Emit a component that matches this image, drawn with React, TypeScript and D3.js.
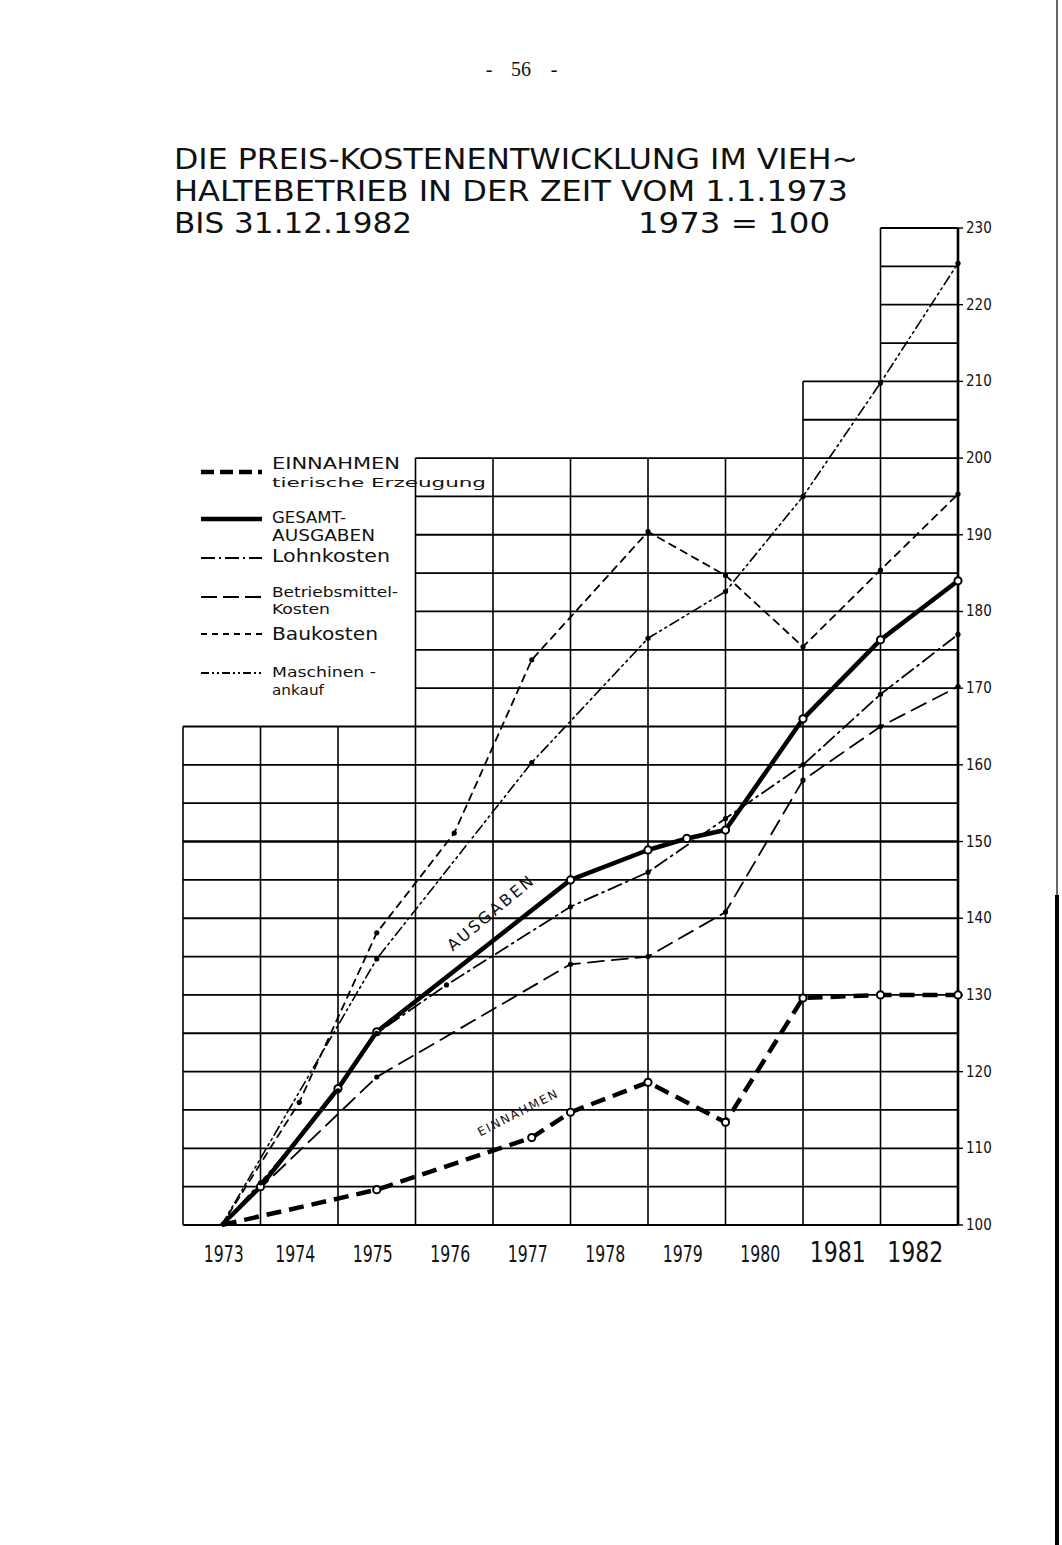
import React from 'react';
import * as d3 from 'd3';

// ---------- data ----------
const yearLabels = ['1973', '1974', '1975', '1976', '1977', '1978', '1979', '1980', '1981', '1982'];
const yTickValues = [100, 110, 120, 130, 140, 150, 160, 170, 180, 190, 200, 210, 220, 230];
// top value of the drawn grid for each year column
const columnTops = [165, 165, 165, 200, 200, 200, 200, 200, 210, 230];

const einnahmen: [number, number][] = [
  [1973, 100], [1975, 104.6], [1977, 111.4], [1977.5, 114.7], [1978.5, 118.6],
  [1979.5, 113.4], [1980.5, 129.6], [1981.5, 130], [1982.5, 130],
];
const ausgaben: [number, number][] = [
  [1973, 100], [1973.5, 105], [1974.5, 117.8], [1975, 125.2], [1977.5, 145],
  [1978.5, 148.9], [1979, 150.4], [1979.5, 151.5], [1980.5, 166], [1981.5, 176.3], [1982.5, 184],
];
const lohnkosten: [number, number][] = [
  [1973, 100], [1973.5, 105.5], [1974.5, 117.5], [1975, 125], [1975.9, 131.3], [1977.5, 141.5],
  [1978.5, 146], [1979.5, 153], [1980.5, 160], [1981.5, 169.2], [1982.5, 177],
];
const betriebsmittel: [number, number][] = [
  [1973, 100], [1975, 119.3], [1977.5, 134], [1978.5, 135], [1979.5, 140.8],
  [1980.5, 158], [1981.5, 165], [1982.5, 170.2],
];
const baukosten: [number, number][] = [
  [1973, 100], [1974, 116], [1975, 138.1], [1976, 151.1], [1977, 173.7], [1978.5, 190.4],
  [1979.5, 184.7], [1980.5, 175.4], [1981.5, 185.4], [1982.5, 195.3],
];
const maschinen: [number, number][] = [
  [1973, 100], [1975, 134.7], [1977, 160.3], [1978.5, 176.5], [1979.5, 182.6],
  [1980.5, 195], [1981.5, 209.8], [1982.5, 225.4],
];

const titleLines = [
  'DIE PREIS-KOSTENENTWICKLUNG IM VIEH~',
  'HALTEBETRIEB IN DER ZEIT VOM 1.1.1973',
  'BIS 31.12.1982',
];

// ---------- styles ----------
const series = [
  { name: 'einnahmen', data: einnahmen, width: 4.5, dash: '15 8' },
  { name: 'ausgaben', data: ausgaben, width: 4.5, dash: '' },
  { name: 'lohn', data: lohnkosten, width: 1.8, dash: '14 5 2 5' },
  { name: 'betrieb', data: betriebsmittel, width: 1.8, dash: '16 8' },
  { name: 'bau', data: baukosten, width: 1.8, dash: '7 6' },
  { name: 'maschinen', data: maschinen, width: 1.6, dash: '10 4 2 4 2 4' },
];

const legendItems = [
  { lines: ['EINNAHMEN', 'tierische Erzeugung'], lens: [128, 214], sizes: [15, 13], width: 4.5, dash: '13 6' },
  { lines: ['GESAMT-', 'AUSGABEN'], lens: [74, 103], sizes: [15, 15], width: 4.5, dash: '' },
  { lines: ['Lohnkosten'], lens: [118], sizes: [17], width: 2.2, dash: '14 4 2 4' },
  { lines: ['Betriebsmittel-', 'Kosten'], lens: [126, 58], sizes: [13.5, 13.5], width: 2.2, dash: '16 6' },
  { lines: ['Baukosten'], lens: [106], sizes: [17], width: 1.8, dash: '6 5' },
  { lines: ['Maschinen -', 'ankauf'], lens: [104, 52], sizes: [14, 14], width: 1.8, dash: '8 3 2 3 2 3' },
];
const legendY = [472, 519, 558, 597, 634, 673];
const legendTextY = [[469, 487], [523, 541], [562], [597, 614], [640], [677, 695]];

const hand = "'Liberation Sans Narrow', 'DejaVu Sans Condensed', sans-serif";

export default function App() {
  const W = 1062;
  const H = 1545;
  const x = d3.scaleLinear().domain([1972.5, 1982.5]).range([183, 958]);
  const y = d3.scaleLinear().domain([100, 230]).range([1225, 228]);
  const line = d3.line<[number, number]>().x(d => x(d[0])).y(d => y(d[1]));

  // grid lines
  const hLines: { v: number; x1: number }[] = [];
  for (let v = 100; v <= 230; v += 5) {
    const c = columnTops.findIndex(t => t >= v);
    hLines.push({ v, x1: x(1972.5 + c) });
  }
  const vLines: { i: number; top: number }[] = [];
  for (let i = 0; i <= columnTops.length; i++) {
    const a = i > 0 ? columnTops[i - 1] : 0;
    const b = i < columnTops.length ? columnTops[i] : 0;
    vLines.push({ i, top: Math.max(a, b) });
  }

  return (
    <svg width={W} height={H} style={{ position: 'absolute', left: 0, top: 0, background: '#fff' }}>
      <rect x={0} y={0} width={W} height={H} fill="#fff" />
      {/* page edge */}
      <line x1={1057} y1={0} x2={1057} y2={900} stroke="#000" strokeWidth={1.2} />
      <line x1={1057} y1={895} x2={1057} y2={H} stroke="#000" strokeWidth={4} />

      {/* page number */}
      <g fontFamily="'Liberation Serif', serif" fontSize={20} textAnchor="middle" fill="#111">
        <text x={489} y={76}>-</text>
        <text x={521} y={76}>56</text>
        <text x={554} y={76}>-</text>
      </g>

      {/* title */}
      <g fontFamily={hand} fontSize={29} fill="#111">
        <text x={174} y={169} textLength={684} lengthAdjust="spacingAndGlyphs">{titleLines[0]}</text>
        <text x={174} y={201} textLength={674} lengthAdjust="spacingAndGlyphs">{titleLines[1]}</text>
        <text x={174} y={233} textLength={238} lengthAdjust="spacingAndGlyphs">{titleLines[2]}</text>
        <text x={638} y={233} textLength={192} lengthAdjust="spacingAndGlyphs">1973 = 100</text>
      </g>

      {/* grid */}
      <g stroke="#000" strokeWidth={1.8}>
        {hLines.map(h => (
          <line key={'h' + h.v} x1={h.x1} x2={x(1982.5)} y1={y(h.v)} y2={y(h.v)}
            strokeWidth={h.v === 150 ? 2.6 : 1.8} />
        ))}
        {vLines.map(v => (
          <line key={'v' + v.i} x1={x(1972.5 + v.i)} x2={x(1972.5 + v.i)} y1={y(v.top)} y2={y(100)}
            strokeWidth={v.i === 10 ? 2.6 : 1.6} />
        ))}
        {yTickValues.map(t => (
          <line key={'t' + t} x1={x(1982.5)} x2={x(1982.5) + 5} y1={y(t)} y2={y(t)} strokeWidth={1.4} />
        ))}
      </g>

      {/* right axis labels */}
      <g fontFamily={hand} fontSize={15} fill="#111">
        {yTickValues.map(t => (
          <text key={'yl' + t} x={966} y={y(t) + 5}>{t}</text>
        ))}
      </g>

      {/* x labels */}
      <g fontFamily={hand} fill="#111" textAnchor="middle">
        {yearLabels.map((lab, i) => {
          const big = i >= 8;
          return (
            <text key={lab} x={x(1973 + i) - (i === 0 ? -2 : 4)} y={1262} fontSize={big ? 29 : 23}
              textLength={big ? 56 : 40} lengthAdjust="spacingAndGlyphs">{lab}</text>
          );
        })}
      </g>

      {/* series */}
      <g fill="none" stroke="#000" strokeLinejoin="round">
        {series.map(s => (
          <path key={s.name} d={line(s.data) || ''} strokeWidth={s.width}
            strokeDasharray={s.dash || undefined} strokeLinecap={s.width > 3 ? 'butt' : 'round'} />
        ))}
      </g>
      <g>
        {series.map(s => s.data.slice(1).map((d, j) => (
          s.width > 3 ? (
            <circle key={s.name + j} cx={x(d[0])} cy={y(d[1])} r={3.6}
              fill="#fff" stroke="#000" strokeWidth={2} />
          ) : (
            <circle key={s.name + j} cx={x(d[0])} cy={y(d[1])} r={2.6} fill="#000" />
          )
        )))}
      </g>

      {/* in-chart labels */}
      <text fontFamily="'DejaVu Sans', sans-serif" fontSize={16} letterSpacing={2.5} fill="#111"
        textAnchor="middle" transform={`translate(${x(1976.52)},${y(140.2)}) rotate(-40)`}>AUSGABEN</text>
      <text fontFamily="'DejaVu Sans', sans-serif" fontSize={12} letterSpacing={1.8} fill="#111"
        textAnchor="middle" transform={`translate(${x(1976.85)},${y(114.2)}) rotate(-27)`}>EINNAHMEN</text>

      {/* legend */}
      <g>
        {legendItems.map((it, i) => (
          <g key={'lg' + i}>
            <line x1={201} x2={262} y1={legendY[i]} y2={legendY[i]} stroke="#000" strokeWidth={it.width}
              strokeDasharray={it.dash || undefined} />
            {it.lines.map((t, k) => (
              <text key={k} x={272} y={legendTextY[i][k]} fontFamily={hand}
                fontSize={it.sizes[k]} textLength={it.lens[k]} lengthAdjust="spacingAndGlyphs"
                fill="#111">{t}</text>
            ))}
          </g>
        ))}
      </g>
    </svg>
  );
}
